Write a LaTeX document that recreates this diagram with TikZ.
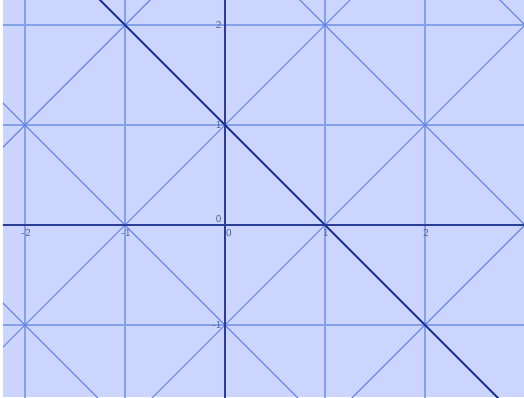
\documentclass[tikz,border=0pt]{standalone}
\usetikzlibrary{positioning}
\definecolor{plotbg}{HTML}{CCD5FE}
\definecolor{gridblue}{HTML}{86A0E8}
\definecolor{diagblue}{HTML}{5F7EEA}
\definecolor{axisnavy}{HTML}{2B3E96}
\definecolor{linenavy}{HTML}{1E3494}
\definecolor{ticklabel}{HTML}{5A6690}

\begin{document}
\begin{tikzpicture}[
    gridline/.style={draw=gridblue, line width=0.42pt},
    diagline/.style={draw=diagblue, line width=0.3pt},
    axisline/.style={draw=axisnavy, line width=0.5pt},
    mainline/.style={draw=linenavy, line width=0.55pt},
    tick/.style={font=\fontsize{3}{3}\selectfont\sffamily, text=ticklabel, inner sep=0.2pt}
  ]
    \useasboundingbox (-2.25,-1.72) rectangle (2.99,2.25);
    \fill[plotbg] (-2.22,-1.72) rectangle (2.99,2.25);
    \begin{scope}
      \clip (-2.22,-1.72) rectangle (2.99,2.25);
      % square grid
      \foreach \gx in {-2,-1,1,2}
        \draw[gridline] (\gx,-2) -- (\gx,3);
      \foreach \gy in {-1,1,2}
        \draw[gridline] (-3,\gy) -- (3,\gy);
      % diagonals through the odd points
      \foreach \k in {-5,-3,-1,3,5}
        \draw[diagline] (\k-3,3) -- (\k+3,-3);
      \foreach \k in {-5,-3,-1,1,3,5}
        \draw[diagline] (\k-3,-3) -- (\k+3,3);
      % axes
      \draw[axisline] (-3,0) -- (3,0);
      \draw[axisline] (0,-2) -- (0,3);
      % the line x + y = 1
      \coordinate (top) at (-2,3);
      \coordinate (bottom) at (3,-2);
      \draw[mainline] (top) -- (bottom);
    \end{scope}
    % tick labels
    \node[tick, anchor=north] (xm2) at (-1.99,-0.03) {-2};
    \node[tick, anchor=north] (xm1) at (-0.99,-0.03) {-1};
    \node[tick, anchor=north] (x0) at (0.04,-0.03) {0};
    \node[tick, anchor=north] (x1) at (1.01,-0.03) {1};
    \node[tick, anchor=north] (x2) at (2.01,-0.03) {2};
    \node[tick, anchor=east] (y2) at (-0.02,2) {2};
    \node[tick, anchor=east] (y1) at (-0.02,1) {1};
    \node[tick, anchor=south east] (y0) at (-0.02,0.01) {0};
    \node[tick, anchor=east] (ym1) at (-0.02,-1) {-1};
  \end{tikzpicture}
\end{document}
